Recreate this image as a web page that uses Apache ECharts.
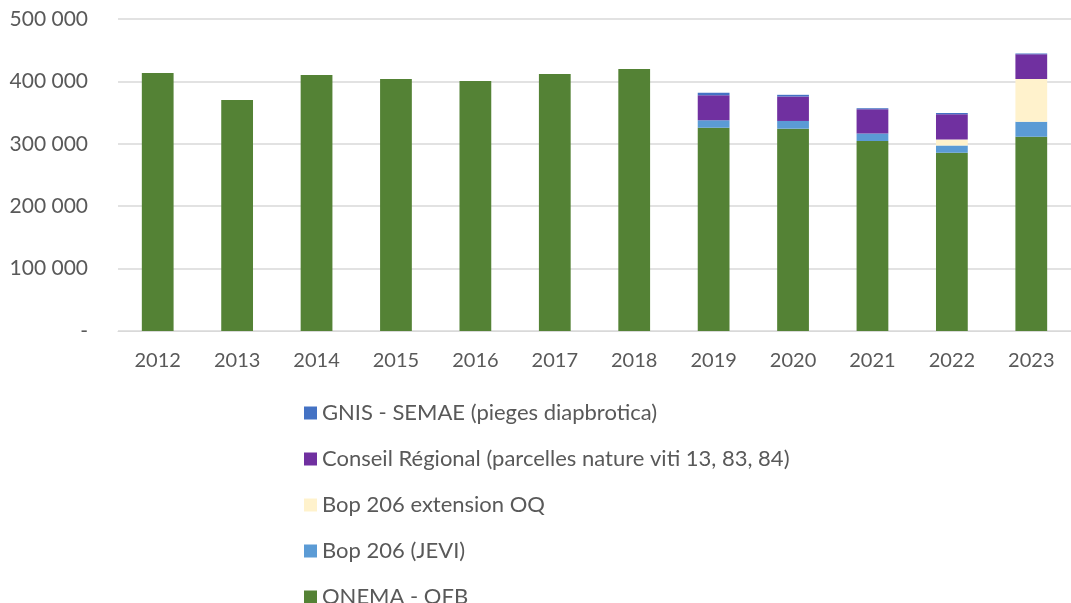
<!DOCTYPE html>
<html lang="fr">
<head>
<meta charset="UTF-8">
<title>Financements</title>
<script src="https://cdn.jsdelivr.net/npm/echarts@6/dist/echarts.min.js"></script>
<style>
  html, body { margin: 0; padding: 0; background: #fff; }
</style>
</head>
<body>
<div id="main" style="width: 1071px; height: 603px"></div>
<script>
var years = ['2012', '2013', '2014', '2015', '2016', '2017', '2018', '2019', '2020', '2021', '2022', '2023'];
var onemaOfb = [413500, 370200, 410300, 403800, 400600, 411900, 419900, 325800, 324200, 304300, 285500, 311300];
var bopJevi = [null, null, null, null, null, null, null, 11800, 12400, 12400, 11800, 24200];
var bopExtOq = [null, null, null, null, null, null, null, null, null, null, 9700, 68300];
var conseilRegional = [null, null, null, null, null, null, null, 40400, 39200, 38700, 40300, 39800];
var gnisSemae = [null, null, null, null, null, null, null, 3700, 2700, 1600, 2200, 1100];
var yTicks = [0, 100000, 200000, 300000, 400000, 500000];

var names = [
  'ONEMA - OFB',
  'Bop 206 (JEVI)',
  'Bop 206 extension OQ',
  'Conseil Régional (parcelles nature viti 13, 83, 84)',
  'GNIS - SEMAE (pieges diapbrotica)'
];
var values = [onemaOfb, bopJevi, bopExtOq, conseilRegional, gnisSemae];
var colors = ['#548235', '#5B9BD5', '#FFF2CC', '#7030A0', '#4472C4'];

var font = 'Lato';
var chart = echarts.init(document.getElementById('main'));

chart.setOption({
  animation: false,
  grid: { left: 118, top: 19, width: 955, height: 312, containLabel: false },
  legend: {
    orient: 'vertical',
    left: 299,
    top: 397,
    height: 260,
    itemGap: 24,
    itemWidth: 13,
    itemHeight: 13,
    icon: 'rect',
    data: names.slice().reverse(),
    textStyle: { fontFamily: font, fontSize: 22, lineHeight: 22, color: '#595959', padding: [0, 0, 0, 0] }
  },
  xAxis: {
    type: 'category',
    data: years,
    axisLine: { lineStyle: { color: '#d9d9d9', width: 1 } },
    axisTick: { show: false },
    axisLabel: { fontFamily: font, fontSize: 20, color: '#595959', margin: 20 }
  },
  yAxis: {
    type: 'value',
    min: yTicks[0],
    max: yTicks[yTicks.length - 1],
    interval: 100000,
    axisLine: { show: false },
    axisTick: { show: false },
    splitLine: { lineStyle: { color: '#d9d9d9', width: 1.5 } },
    axisLabel: {
      fontFamily: font, fontSize: 21, color: '#595959', margin: 30,
      formatter: function (v) {
        if (v === 0) return '-';
        return String(v).replace(/\B(?=(\d{3})+(?!\d))/g, ' ');
      }
    }
  },
  series: names.map(function (n, i) {
    return {
      name: n,
      type: 'bar',
      stack: 'total',
      barWidth: '40%',
      data: values[i],
      itemStyle: { color: colors[i] }
    };
  })
});
</script>
</body>
</html>
